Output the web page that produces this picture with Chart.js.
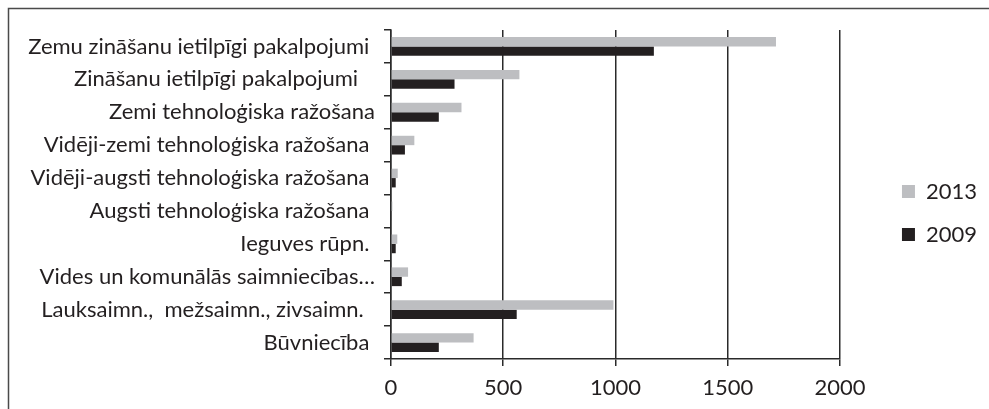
<!DOCTYPE html>
<html>
<head>
<meta charset="utf-8">
<script src="https://cdn.jsdelivr.net/npm/chart.js@4"></script>
<style>
html,body{margin:0;padding:0;background:#fff;}
#wrap{width:989px;height:409px;position:relative;}
</style>
</head>
<body>
<div id="wrap"><canvas id="c" width="989" height="409"></canvas></div>
<script>
const categories = [
  "Zemu zināšanu ietilpīgi pakalpojumi ",
  "Zināšanu ietilpīgi pakalpojumi   ",
  "Zemi tehnoloģiska ražošana",
  "Vidēji-zemi tehnoloģiska ražošana ",
  "Vidēji-augsti tehnoloģiska ražošana ",
  "Augsti tehnoloģiska ražošana ",
  "Ieguves rūpn. ",
  "Vides un komunālās saimniecības…",
  "Lauksaimn.,  mežsaimn., zivsaimn.  ",
  "Būvniecība "
];
const values2013 = [1715, 572, 314, 104, 30, 6, 28, 76, 991, 368];
const values2009 = [1171, 283, 213, 62, 21, 3, 21, 48, 560, 213];
const xTicks = [0, 500, 1000, 1500, 2000];

const FONT = "Lato, 'Noto Sans', sans-serif";
const FS = 22;
const INK = '#231f20';

const frame = {
  id: 'frame',
  afterDraw(chart) {
    const ctx = chart.ctx;
    ctx.save();
    ctx.strokeStyle = '#4a4a4a';
    ctx.lineWidth = 1.5;
    ctx.beginPath();
    ctx.moveTo(8.5, 409);
    ctx.lineTo(8.5, 8.5);
    ctx.lineTo(989, 8.5);
    ctx.stroke();
    ctx.restore();
  }
};

new Chart(document.getElementById('c'), {
  type: 'bar',
  data: {
    labels: categories,
    datasets: [
      { label: '2013', data: values2013, backgroundColor: '#bdbec1', barPercentage: 1, categoryPercentage: 0.57 },
      { label: '2009', data: values2009, backgroundColor: INK, barPercentage: 1, categoryPercentage: 0.57 }
    ]
  },
  options: {
    indexAxis: 'y',
    responsive: false,
    animation: false,
    devicePixelRatio: 1,
    layout: { padding: { top: 30, left: 0, right: 2, bottom: 13 } },
    plugins: {
      tooltip: { enabled: false },
      legend: {
        position: 'right',
        align: 'center',
        labels: {
          color: INK,
          font: { family: FONT, size: FS },
          boxWidth: 13,
          boxHeight: 13,
          padding: 21
        }
      }
    },
    scales: {
      x: {
        min: 0, max: 2000,
        afterBuildTicks(scale) { scale.ticks = xTicks.map(v => ({ value: v })); },
        afterFit(scale) { scale.height = 37; },
        grid: { color: '#2a2a2a', lineWidth: 1.5, tickLength: 7, drawTicks: true },
        border: { display: true, color: '#2a2a2a', width: 1.5 },
        ticks: { color: INK, font: { family: FONT, size: FS }, padding: 9, maxRotation: 0,
                 callback: (v) => String(v) }
      },
      y: {
        afterFit(scale) { scale.width = 391; },
        grid: { offset: true, drawOnChartArea: false, color: '#2a2a2a', lineWidth: 1.5, tickLength: 7 },
        border: { display: true, color: '#2a2a2a', width: 1.5 },
        ticks: { color: INK, font: { family: FONT, size: FS }, padding: 9, autoSkip: false }
      },
      gap: {
        type: 'category',
        position: 'right',
        afterFit(scale) { scale.width = 41; },
        grid: { display: false },
        border: { display: false },
        ticks: { display: false }
      }
    }
  },
  plugins: [frame]
});
</script>
</body>
</html>
